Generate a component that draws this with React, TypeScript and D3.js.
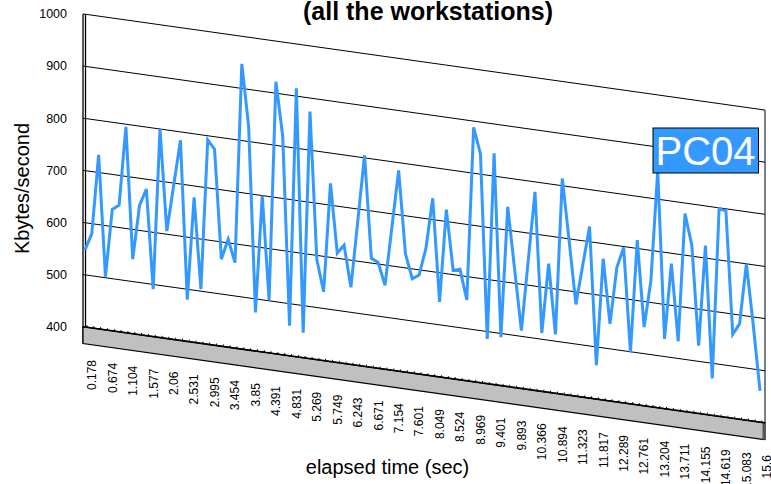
import React from "react";
import * as d3 from "d3";

// Throughput samples of PC04, one per elapsed-time category (Kbytes/second)
const throughput: number[] = [
  548, 581, 734, 502, 633, 643, 795, 543, 648, 681,
  491, 800, 606, 695, 784, 480, 678, 504, 792, 776,
  567, 607, 564, 947, 829, 474, 700, 501, 922, 819,
  458, 915, 448, 874, 592, 532, 742, 610, 627, 548,
  676, 805, 609, 603, 561, 673, 785, 627, 581, 590,
  643, 741, 544, 723, 608, 612, 555, 888, 839, 486,
  844, 493, 745, 628, 511, 646, 781, 512, 647, 513,
  814, 697, 576, 653, 729, 465, 671, 548, 658, 698,
  499, 716, 551, 642, 855, 534, 680, 533, 780, 721,
  530, 724, 471, 798, 796, 561, 583, 700, 586, 460,
];

// Category labels shown on the time axis (every third sample)
const timeLabels: string[] = [
  "0.178", "0.674", "1.104", "1.577", "2.06", "2.531", "2.995", "3.454", "3.85",
  "4.391", "4.831", "5.269", "5.749", "6.243", "6.671", "7.154", "7.601", "8.049",
  "8.524", "8.969", "9.401", "9.893", "10.366", "10.894", "11.323", "11.817",
  "12.289", "12.761", "13.204", "13.711", "14.155", "14.619", "15.083", "15.6",
];
const labelStep = 3;

const yTicks: number[] = [400, 500, 600, 700, 800, 900, 1000];
const seriesName = "PC04";

const W = 771;
const H = 484;
const FONT = "'Liberation Sans', Arial, Helvetica, sans-serif";

// Oblique 3-D frame: the back wall runs from wallLeft to wallRight and sinks
// to the right by `slope` pixels per pixel.
const wallLeft = 83;
const wallRight = 765;
const slope = 0.141;
const floorDepth = 16.8;
const skew = (x: number) => (x - wallLeft) * slope;

export default function App() {
  const x = d3.scaleLinear().domain([0, throughput.length - 1]).range([85, 760]);
  const y = d3.scaleLinear().domain([400, 1000]).range([326.7, 13.9]);

  const line = d3
    .line<number>()
    .x((_, i) => x(i))
    .y((v, i) => y(v) + skew(x(i)));

  const gridPath = (v: number) =>
    `M${wallLeft},${y(v)}L${wallRight},${y(v) + skew(wallRight)}`;

  const floorTopL = y(400);
  const floorTopR = y(400) + skew(wallRight);
  const floorPath = `M${wallLeft},${floorTopL}L${wallRight},${floorTopR}L${wallRight},${
    floorTopR + floorDepth
  }L${wallLeft},${floorTopL + floorDepth}Z`;

  return (
    <svg
      width={W}
      height={H}
      style={{ position: "absolute", left: 0, top: 0, background: "#fff" }}
      fontFamily={FONT}
    >
      {/* title */}
      <text x={428} y={20} textAnchor="middle" fontSize={25} fontWeight="bold" fill="#000">
        (all the workstations)
      </text>

      {/* gridlines on the back wall */}
      {yTicks
        .filter((v) => v > 400)
        .map((v) => (
          <path key={v} d={gridPath(v)} stroke="#000" strokeWidth={1} fill="none" />
        ))}

      {/* right edge of the wall */}
      <line
        x1={wallRight}
        x2={wallRight}
        y1={y(1000) + skew(wallRight)}
        y2={floorTopR}
        stroke="#000"
        strokeWidth={1}
      />

      {/* left wall seen edge-on */}
      <line x1={83} x2={83} y1={y(1000)} y2={floorTopL + floorDepth} stroke="#000" strokeWidth={1.3} />
      <line x1={85.5} x2={85.5} y1={y(1000)} y2={floorTopL} stroke="#000" strokeWidth={1.3} />

      {/* floor */}
      <path d={floorPath} fill="#c0c0c0" stroke="#000" strokeWidth={1.2} />
      <rect x={wallRight - 2.5} y={floorTopR} width={3} height={floorDepth} fill="#555" />
      <line x1={wallLeft} y1={floorTopL} x2={wallRight} y2={floorTopR} stroke="#000" strokeWidth={1.6} />
      {throughput.map((_, i) => {
        const px = x(i) + 2;
        const py = y(400) + skew(px);
        return <line key={i} x1={px} x2={px} y1={py} y2={py - 2} stroke="#000" strokeWidth={1} />;
      })}

      {/* y-axis labels */}
      {yTicks.map((v) => (
        <text key={v} x={67} y={y(v)} dy="0.35em" textAnchor="end" fontSize={12.5} fill="#000">
          {v}
        </text>
      ))}

      {/* time axis labels */}
      {timeLabels.map((t, k) => {
        const px = x(k * labelStep) + 7;
        const top = 360 + (px - 92) * slope;
        return (
          <text
            key={t}
            transform={`translate(${px},${top}) rotate(-90)`}
            textAnchor="end"
            dy="0.35em"
            fontSize={12}
            fill="#000"
          >
            {t}
          </text>
        );
      })}

      {/* series */}
      <path
        d={line(throughput) ?? ""}
        fill="none"
        stroke="#3399ff"
        strokeWidth={3}
        strokeLinejoin="miter"
        strokeMiterlimit={4}
      />

      {/* series tag */}
      <rect x={653} y={128} width={105.5} height={45} fill="#3399ff" stroke="#000" strokeWidth={1} />
      <text x={705.5} y={165} textAnchor="middle" fontSize={40} fill="#fff">
        {seriesName}
      </text>

      {/* axis titles */}
      <text
        transform="translate(29,188.5) rotate(-90)"
        textAnchor="middle"
        fontSize={20}
        fill="#000"
      >
        Kbytes/second
      </text>
      <text x={387.5} y={474} textAnchor="middle" fontSize={20} fill="#000">
        elapsed time (sec)
      </text>
    </svg>
  );
}
